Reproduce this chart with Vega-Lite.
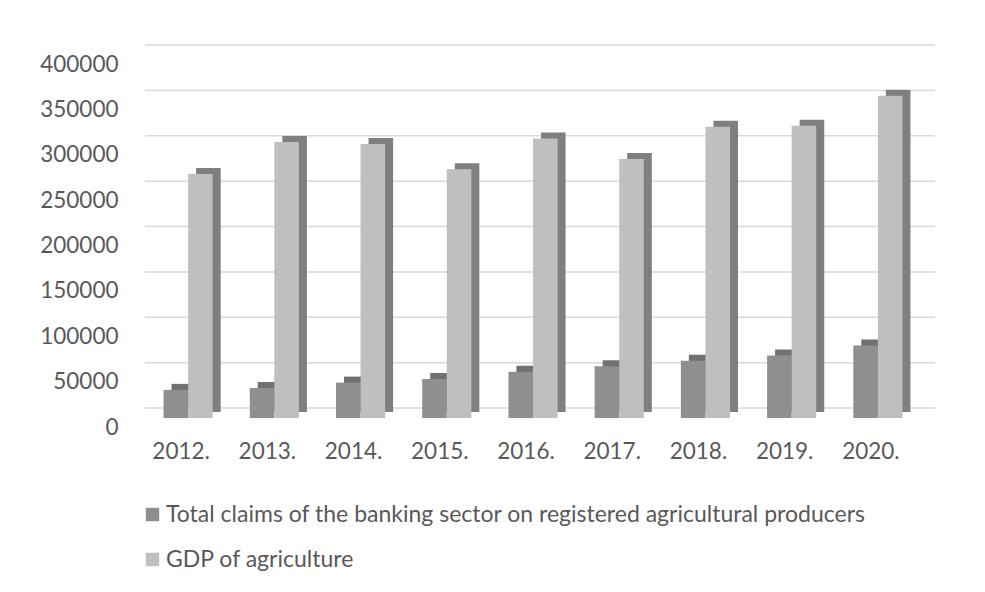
{
  "$schema": "https://vega.github.io/schema/vega-lite/v6.json",
  "width": 776,
  "height": 363,
  "autosize": {"type": "none"},
  "padding": {"left": 145, "top": 55, "right": 64, "bottom": 174},
  "background": "#ffffff",
  "config": {
    "view": {"stroke": null},
    "font": "Lato",
    "axis": {"labelFont": "Lato", "labelColor": "#595959", "labelFontSize": 22.5, "domain": false, "ticks": false, "grid": false, "title": null}
  },
  "datasets": {
    "bars": [
      {"year": "2012.", "series": "Total claims of the banking sector on registered agricultural producers", "value": 31000},
      {"year": "2013.", "series": "Total claims of the banking sector on registered agricultural producers", "value": 33000},
      {"year": "2014.", "series": "Total claims of the banking sector on registered agricultural producers", "value": 39000},
      {"year": "2015.", "series": "Total claims of the banking sector on registered agricultural producers", "value": 43000},
      {"year": "2016.", "series": "Total claims of the banking sector on registered agricultural producers", "value": 51000},
      {"year": "2017.", "series": "Total claims of the banking sector on registered agricultural producers", "value": 57000},
      {"year": "2018.", "series": "Total claims of the banking sector on registered agricultural producers", "value": 63000},
      {"year": "2019.", "series": "Total claims of the banking sector on registered agricultural producers", "value": 69000},
      {"year": "2020.", "series": "Total claims of the banking sector on registered agricultural producers", "value": 80000},
      {"year": "2012.", "series": "GDP of agriculture", "value": 269000},
      {"year": "2013.", "series": "GDP of agriculture", "value": 304000},
      {"year": "2014.", "series": "GDP of agriculture", "value": 302000},
      {"year": "2015.", "series": "GDP of agriculture", "value": 274000},
      {"year": "2016.", "series": "GDP of agriculture", "value": 308000},
      {"year": "2017.", "series": "GDP of agriculture", "value": 285500},
      {"year": "2018.", "series": "GDP of agriculture", "value": 321000},
      {"year": "2019.", "series": "GDP of agriculture", "value": 322000},
      {"year": "2020.", "series": "GDP of agriculture", "value": 355000}
    ],
    "grid": [
      {"v": 0}, {"v": 50000}, {"v": 100000}, {"v": 150000}, {"v": 200000},
      {"v": 250000}, {"v": 300000}, {"v": 350000}, {"v": 400000}
    ]
  },
  "layer": [
    {
      "data": {"name": "grid"},
      "mark": {"type": "rule", "color": "#d9d9d9", "strokeWidth": 1.5, "xOffset": 14, "yOffset": -10},
      "encoding": {
        "y": {"field": "v", "type": "quantitative", "scale": {"domain": [0, 400000]},
          "axis": {"values": [0, 50000, 100000, 150000, 200000, 250000, 300000, 350000, 400000], "format": "d", "labelPadding": 27, "labelOffset": 9}}
      }
    },
    {
      "data": {"name": "bars"},
      "mark": {"type": "bar", "yOffset": -6},
      "encoding": {
        "x": {"field": "year", "type": "nominal", "sort": null,
          "scale": {"paddingInner": 0.43, "paddingOuter": 0.215},
          "axis": {"labelAngle": 0, "labelPadding": 22, "labelOffset": -7}},
        "xOffset": {"field": "series", "type": "nominal",
          "sort": ["Total claims of the banking sector on registered agricultural producers", "GDP of agriculture"],
          "scale": {"paddingInner": 0, "paddingOuter": 0, "range": [8, 57.15]}},
        "y": {"field": "value", "type": "quantitative"},
        "color": {"field": "series", "type": "nominal",
          "scale": {"domain": ["Total claims of the banking sector on registered agricultural producers", "GDP of agriculture"], "range": ["#717171", "#7f7f7f"]},
          "legend": null}
      }
    },
    {
      "data": {"name": "bars"},
      "mark": {"type": "bar"},
      "encoding": {
        "x": {"field": "year", "type": "nominal", "sort": null},
        "xOffset": {"field": "series", "type": "nominal",
          "sort": ["Total claims of the banking sector on registered agricultural producers", "GDP of agriculture"],
          "scale": {"paddingInner": 0, "paddingOuter": 0}},
        "y": {"field": "value", "type": "quantitative"},
        "color": {"field": "series", "type": "nominal",
          "scale": {"domain": ["Total claims of the banking sector on registered agricultural producers", "GDP of agriculture"], "range": ["#8f8f8f", "#bfbfbf"]},
          "legend": {"title": null, "orient": "none", "legendX": -4, "legendY": 448, "direction": "vertical",
            "symbolType": "square", "symbolSize": 180, "symbolStrokeWidth": 0, "labelFontSize": 23, "labelFont": "Lato",
            "labelColor": "#595959", "labelLimit": 0, "rowPadding": 21, "labelOffset": 2}}
      }
    }
  ],
  "resolve": {"scale": {"color": "independent", "xOffset": "independent"}}
}
